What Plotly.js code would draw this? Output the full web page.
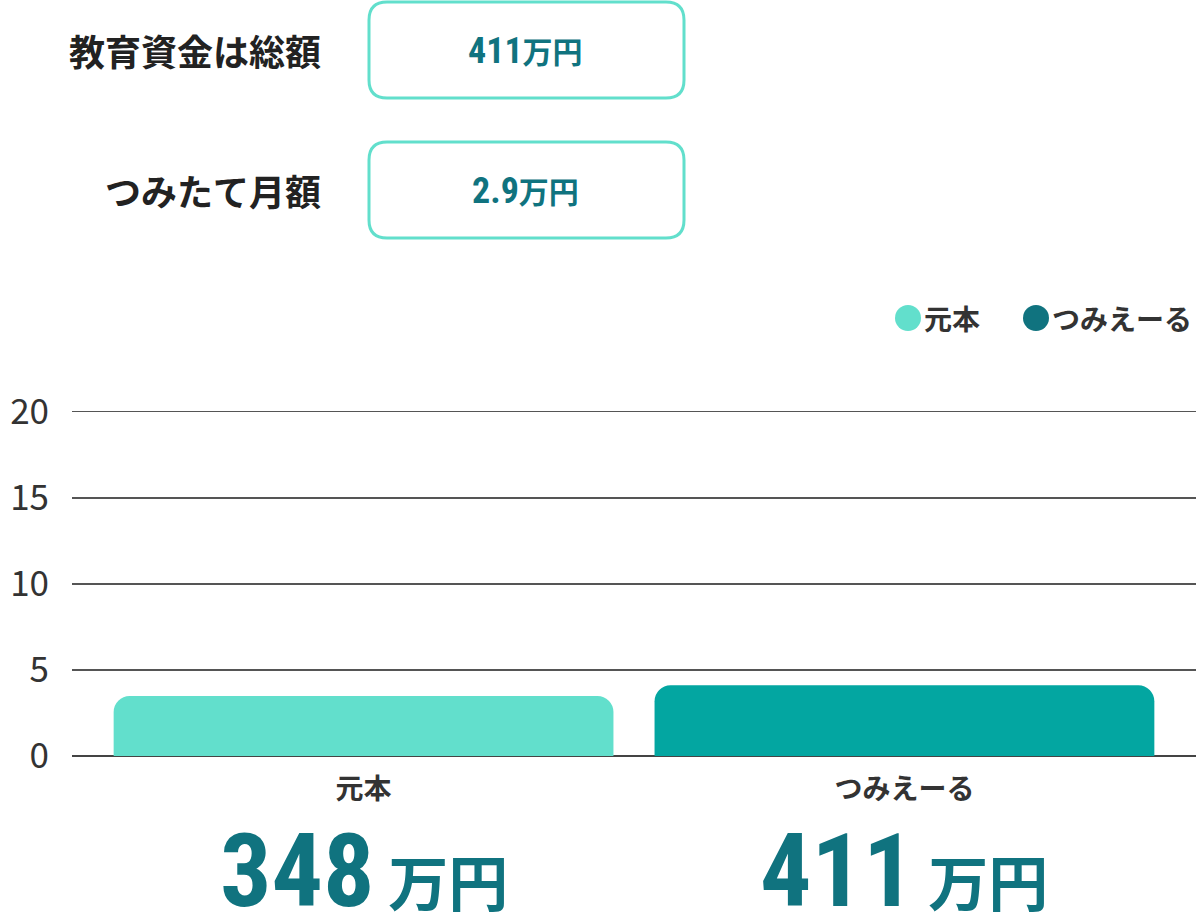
<!DOCTYPE html>
<html>
<head>
<meta charset="utf-8">
<script src="https://cdn.plot.ly/plotly-3.0.1.min.js"></script>
<style>
  html, body { margin: 0; padding: 0; background: #fff; }
  #chart { width: 1197px; height: 922px; }
</style>
</head>
<body>
<div id="chart"></div>
<script>
// ---- datos ----
const categorias = ['元本', 'つみえーる'];
const valores = [3.48, 4.11];           // eje en 100万円
const etiquetasGrandes = ['348', '411'];
const coloresBarra = ['#62DFCC', '#03A6A1'];
const coloresLeyenda = ['#62DFCC', '#10737F'];
const filasCabecera = ['教育資金は総額', 'つみたて月額'];
const numerosCabecera = ['411', '2.9'];
const unidad = '万円';
const ticksY = [0, 5, 10, 15, 20];

const FUENTE = '"Noto Sans CJK JP", "Noto Sans", sans-serif';
const NARROW = "'Liberation Sans Narrow', 'Roboto Condensed', 'Liberation Sans', sans-serif";
const W = 1197, H = 922;
const M = { l: 72, r: 1, t: 410, b: 166 };
const pw = W - M.l - M.r, ph = H - M.t - M.b;

// px -> paper
const px = x => (x - M.l) / pw;
const py = y => (H - M.b - y) / ph;

const trazas = [{
    type: 'bar',
    x: categorias,
    y: valores,
    marker: { color: coloresBarra, cornerradius: 16 },
    hoverinfo: 'skip',
    showlegend: false
}];

const anotaciones = [];
const formas = [];

// ---- cabecera (etiqueta + caja) ----
const cajaTop = [2, 142];
filasCabecera.forEach((t, i) => {
    const y0 = cajaTop[i], y1 = y0 + 96;
    const cy = (y0 + y1) / 2;
    anotaciones.push({
        xref: 'paper', yref: 'paper', x: px(323), y: py(cy),
        xanchor: 'right', yanchor: 'middle', showarrow: false,
        text: '<b>' + t + '</b>',
        font: { family: FUENTE, size: 36, color: '#222' }
    });
    // caja redondeada (en px, eje y hacia abajo)
    const x0 = 369, x1 = 684, r = 18;
    const d = `M ${x0 + r},${y0} L ${x1 - r},${y0} Q ${x1},${y0} ${x1},${y0 + r} ` +
              `L ${x1},${y1 - r} Q ${x1},${y1} ${x1 - r},${y1} L ${x0 + r},${y1} ` +
              `Q ${x0},${y1} ${x0},${y1 - r} L ${x0},${y0 + r} Q ${x0},${y0} ${x0 + r},${y0} Z`;
    formas.push({ type: 'path', xref: 'paper', yref: 'paper', xsizemode: 'pixel', ysizemode: 'pixel',
        xanchor: px(0), yanchor: py(0),
        path: d.replace(/(-?\d+\.?\d*),(-?\d+\.?\d*)/g, (m, a, b) => `${a},${-b}`),
        line: { color: '#62DFCC', width: 3 }, fillcolor: 'rgba(0,0,0,0)' });
    anotaciones.push({
        xref: 'paper', yref: 'paper', x: px(525), y: py(cy),
        xanchor: 'center', yanchor: 'middle', showarrow: false,
        text: `<b><span style="font-family:${NARROW};font-size:36px">${numerosCabecera[i]}</span>${unidad}</b>`,
        font: { family: FUENTE, size: 30, color: '#10737F' }
    });
});

// ---- leyenda ----
const leyendaX = [908, 1036];
categorias.forEach((c, i) => {
    formas.push({ type: 'circle', xref: 'paper', yref: 'paper', xsizemode: 'pixel', ysizemode: 'pixel',
        xanchor: px(leyendaX[i]), yanchor: py(318), x0: -13, x1: 13, y0: -13, y1: 13,
        fillcolor: coloresLeyenda[i], line: { width: 0 } });
    anotaciones.push({
        xref: 'paper', yref: 'paper', x: px(leyendaX[i] + 14), y: py(318),
        xanchor: 'left', yanchor: 'middle', showarrow: false,
        text: '<b>' + c + '</b>',
        font: { family: FUENTE, size: 28, color: '#333' }
    });
});

// ---- cifras grandes bajo cada barra ----
categorias.forEach((c, i) => {
    anotaciones.push({
        xref: 'x', yref: 'paper', x: c, y: py(871),
        xanchor: 'center', yanchor: 'middle', showarrow: false,
        text: `<b><span style="font-family:${NARROW};font-size:102px">${etiquetasGrandes[i]}</span> ${unidad}</b>`,
        font: { family: FUENTE, size: 60, color: '#10737F' }
    });
});

const layout = {
    width: W, height: H,
    margin: M,
    paper_bgcolor: '#fff',
    plot_bgcolor: '#fff',
    bargap: 0.076,
    showlegend: false,
    font: { family: FUENTE, color: '#333' },
    xaxis: {
        range: [-0.539, 1.539],
        showgrid: false, zeroline: false, showline: false,
        ticks: '',
        tickvals: categorias,
        ticktext: categorias.map(c => '<b>' + c + '</b>'),
        tickfont: { family: FUENTE, size: 28, color: '#333' },
        ticklabelstandoff: 14,
        fixedrange: true
    },
    yaxis: {
        range: [0, 20.1],
        tickvals: ticksY,
        ticktext: ticksY.map(String),
        gridcolor: '#555', gridwidth: 1.5,
        zeroline: true, zerolinecolor: '#444', zerolinewidth: 2,
        showline: false, ticks: '',
        tickfont: { family: FUENTE, size: 35, color: '#333' },
        ticklabelstandoff: 22,
        fixedrange: true
    },
    annotations: anotaciones,
    shapes: formas
};

Plotly.newPlot('chart', trazas, layout, { displayModeBar: false, staticPlot: true });
</script>
</body>
</html>
